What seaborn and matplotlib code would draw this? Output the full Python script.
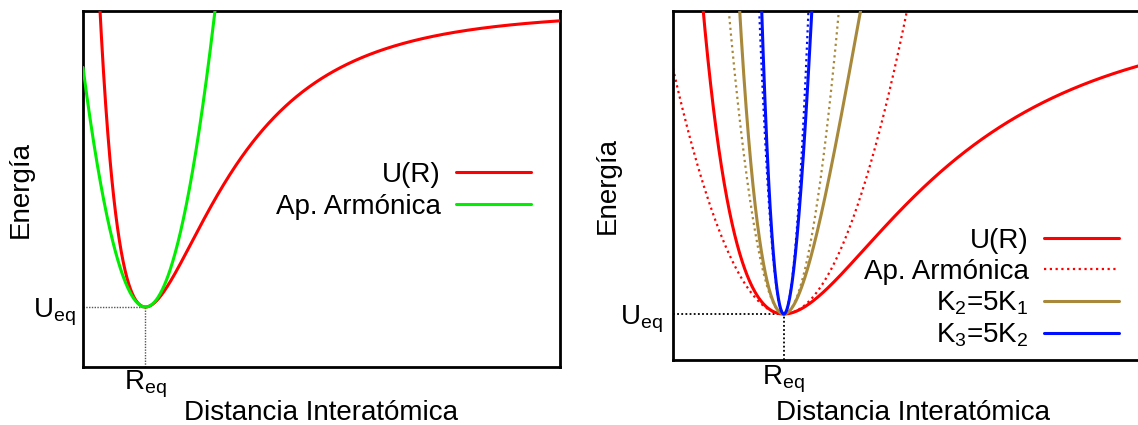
import numpy as np
import pandas as pd
import matplotlib
matplotlib.use("Agg")
import matplotlib.pyplot as plt
import seaborn as sns

# ---- chart parameters ----
R_EQ = 1.31          # equilibrium distance
U_EQ = 1.685         # energy at the minimum
DEPTH = 8.3          # well depth of U(R)
R_MIN = 8.73         # Lennard-Jones length scale of U(R)
K_FACTORS = [1, 5, 25]   # K1, K2 = 5K1, K3 = 5K2

LEFT_XLIM = (0, 10)
LEFT_YLIM = (0, 10)
RIGHT_XLIM = (0, 5.674)
RIGHT_YLIM = (0.425, 9.986)

LEFT_LABELS = ["U(R)", "Ap. Armónica"]
RIGHT_LABELS = ["U(R)", "Ap. Armónica", "K$_2$=5K$_1$", "K$_3$=5K$_2$"]
X_LABEL = "Distancia Interatómica"
Y_LABEL = "Energía"
R_TICK = "R$_{\\mathrm{eq}}$"
U_TICK = "U$_{\\mathrm{eq}}$"

RED = "#ff0000"
GREEN = "#00ee00"
GOLD = "#a8883a"
BLUE = "#0010ff"


def potential(r, f=1.0):
    s = R_MIN / (r - R_EQ + R_MIN)
    return U_EQ + f * DEPTH * (1 - s ** 6) ** 2


def harmonic(r, f=1.0):
    return U_EQ + f * 36 * DEPTH / R_MIN ** 2 * (r - R_EQ) ** 2


sns.set_theme(style="white")
plt.rcParams["font.family"] = ["Liberation Sans", "DejaVu Sans"]
plt.rcParams["mathtext.fontset"] = "custom"
plt.rcParams["mathtext.rm"] = "Liberation Sans"
plt.rcParams["mathtext.it"] = "Liberation Sans:italic"
plt.rcParams["mathtext.bf"] = "Liberation Sans:bold"
plt.rcParams["mathtext.default"] = "rm"
for k in ["text.color", "axes.labelcolor", "xtick.color", "ytick.color"]:
    plt.rcParams[k] = "black"

FS = 20
W, H = 1138, 425
fig = plt.figure(figsize=(W / 100, H / 100), dpi=100)
axL = fig.add_axes([83 / W, (H - 367) / H, 477 / W, 356 / H])
axR = fig.add_axes([673 / W, (H - 360) / H, 480 / W, 349 / H])

# ---------------- left panel ----------------
rL = np.linspace(LEFT_XLIM[0], LEFT_XLIM[1], 2000)
dfL = pd.DataFrame({"r": rL, "U": potential(rL), "H": harmonic(rL)})
sns.lineplot(data=dfL, x="r", y="U", ax=axL, color=RED, lw=2.2, label=LEFT_LABELS[0], zorder=3)
sns.lineplot(data=dfL, x="r", y="H", ax=axL, color=GREEN, lw=2.2, label=LEFT_LABELS[1], zorder=4)
axL.plot([LEFT_XLIM[0], R_EQ], [U_EQ, U_EQ], color="#555555", lw=1.0, ls=(0, (1, 1)), zorder=2)
axL.plot([R_EQ, R_EQ], [LEFT_YLIM[0], U_EQ], color="#555555", lw=1.0, ls=(0, (1, 1)), zorder=2)
axL.set_xlim(*LEFT_XLIM)
axL.set_ylim(*LEFT_YLIM)

# ---------------- right panel ----------------
rR = np.linspace(RIGHT_XLIM[0], RIGHT_XLIM[1], 3000)
colors = [RED, GOLD, BLUE]
dfR = pd.DataFrame({"r": rR})
for f in K_FACTORS:
    dfR[f"H{f}"] = harmonic(rR, f)
    dfR[f"M{f}"] = potential(rR, f)

axR.plot([RIGHT_XLIM[0], R_EQ], [U_EQ, U_EQ], color="black", lw=1.3, ls=(0, (1, 1.3)), zorder=1)
axR.plot([R_EQ, R_EQ], [RIGHT_YLIM[0], U_EQ], color="black", lw=1.3, ls=(0, (1, 1.3)), zorder=1)
for f, c in zip(K_FACTORS, colors):
    lab = RIGHT_LABELS[1] if f == 1 else None
    sns.lineplot(data=dfR, x="r", y=f"H{f}", ax=axR, color=c, lw=1.6,
                 linestyle=(0, (1, 1.6)), label=lab, zorder=2)
for f, c, lab in zip(K_FACTORS, colors, [RIGHT_LABELS[0], RIGHT_LABELS[2], RIGHT_LABELS[3]]):
    sns.lineplot(data=dfR, x="r", y=f"M{f}", ax=axR, color=c, lw=2.2, label=lab, zorder=3)
axR.set_xlim(*RIGHT_XLIM)
axR.set_ylim(*RIGHT_YLIM)

# ---------------- common styling ----------------
for ax, ypad, xpad in [(axL, 5.5, 1.5), (axR, 7.0, 3.0)]:
    for s in ax.spines.values():
        s.set_color("black")
        s.set_linewidth(2.0)
        s.set_visible(True)
    ax.set_xticks([R_EQ])
    ax.set_xticklabels([R_TICK])
    ax.set_yticks([U_EQ])
    ax.set_yticklabels([U_TICK])
    ax.tick_params(axis="y", length=0, labelsize=FS, pad=ypad, colors="black")
    ax.tick_params(axis="x", length=0, labelsize=FS, pad=xpad, colors="black")
    ax.set_xlabel(X_LABEL, fontsize=FS, color="black")
    ax.set_ylabel(Y_LABEL, fontsize=FS, color="black")

axL.yaxis.set_label_coords(-0.104, 0.5)
axR.yaxis.set_label_coords(-0.109, 0.5)
axL.xaxis.set_label_coords(0.5, -0.094)
axR.xaxis.set_label_coords(0.5, -0.116)


def ordered_legend(ax, order, anchor, spacing):
    h, l = ax.get_legend_handles_labels()
    d = dict(zip(l, h))
    leg = ax.legend([d[k] for k in order], order, loc="upper right", bbox_to_anchor=anchor,
                    frameon=False, fontsize=FS, markerfirst=False, handlelength=2.7,
                    handletextpad=0.54, labelspacing=spacing, borderpad=0, borderaxespad=0)
    for t in leg.get_texts():
        t.set_color("black")
    return leg


ordered_legend(axL, LEFT_LABELS, ((531 - 83) / 477, (367 - 162) / 356), 0.2)
ordered_legend(axR, RIGHT_LABELS, ((1119 - 673) / 480, (360 - 228) / 349), 0.17)

fig.savefig("out.png", dpi=100)
